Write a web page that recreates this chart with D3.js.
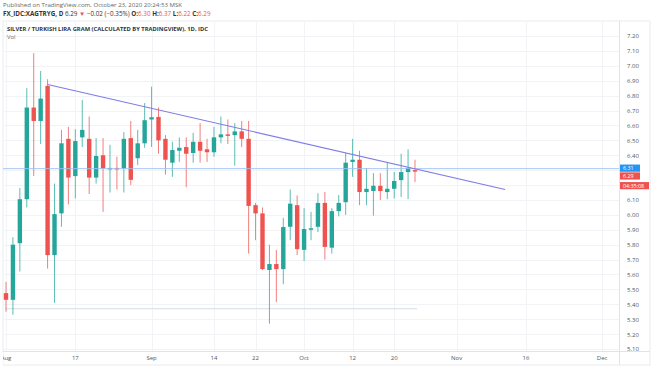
<!DOCTYPE html>
<html>
<head>
<meta charset="utf-8">
<script src="https://cdn.jsdelivr.net/npm/d3@7"></script>
<style>
  html, body { margin: 0; padding: 0; background: #fff; }
  svg { display: block; font-family: "Open Sans", sans-serif; }
</style>
</head>
<body>
<svg id="chart" width="654" height="366"></svg>
<script>
// trading days shown (Aug 3 .. Oct 23, 2020)
const dates = [
    'Aug 3','Aug 4','Aug 5','Aug 6','Aug 7','Aug 10','Aug 11','Aug 12','Aug 13','Aug 14',
    'Aug 17','Aug 18','Aug 19','Aug 20','Aug 21','Aug 24','Aug 25','Aug 26','Aug 27','Aug 28','Aug 31',
    'Sep 1','Sep 2','Sep 3','Sep 4','Sep 7','Sep 8','Sep 9','Sep 10','Sep 11',
    'Sep 14','Sep 15','Sep 16','Sep 17','Sep 18','Sep 21','Sep 22','Sep 23','Sep 24','Sep 25',
    'Sep 28','Sep 29','Sep 30','Oct 1','Oct 2','Oct 5','Oct 6','Oct 7','Oct 8','Oct 9',
    'Oct 12','Oct 13','Oct 14','Oct 15','Oct 16','Oct 19','Oct 20','Oct 21','Oct 22','Oct 23'
];
const opens = [5.475,5.43,5.81,6.105,6.72,6.63,6.865,5.73,6.01,6.51,
    6.26,6.52,6.51,6.25,6.40,6.31,6.315,6.31,6.515,6.38,
    6.48,6.64,6.657,6.51,6.35,6.43,6.455,6.415,6.49,6.44,
    6.42,6.52,6.54,6.535,6.56,6.51,6.065,6.01,5.63,5.67,
    5.636,5.92,6.065,5.765,5.905,5.92,6.08,5.78,6.025,6.085,
    6.355,6.37,6.153,6.16,6.195,6.153,6.175,6.233,6.287,6.30];
const highs = [5.55,5.85,6.18,6.85,7.085,6.965,6.91,6.21,6.57,6.59,
    6.575,6.77,6.66,6.515,6.515,6.47,6.39,6.555,6.63,6.57,
    6.75,6.86,6.72,6.535,6.49,6.52,6.52,6.55,6.615,6.51,
    6.59,6.66,6.64,6.615,6.63,6.63,6.08,6.05,5.80,5.764,
    5.98,6.17,6.13,6.045,6.02,6.145,6.153,6.045,6.133,6.415,
    6.51,6.43,6.315,6.28,6.28,6.355,6.288,6.41,6.44,6.37];
const lows = [5.35,5.33,5.62,6.05,6.26,6.475,5.64,5.41,5.92,6.07,
    6.11,6.455,6.14,6.21,6.02,6.15,6.17,6.15,6.20,6.335,
    6.45,6.455,6.41,6.27,6.255,6.355,6.185,6.35,6.35,6.355,
    6.39,6.48,6.475,6.33,6.455,5.74,5.83,5.63,5.27,5.415,
    5.535,5.83,5.73,5.69,5.83,5.885,5.70,5.74,5.99,6.0,
    6.255,6.065,6.065,5.995,6.10,6.105,6.11,6.12,6.106,6.22];
const closes = [5.43,5.80,6.105,6.72,6.63,6.78,5.73,6.005,6.48,6.25,
    6.495,6.57,6.25,6.395,6.31,6.315,6.31,6.51,6.235,6.48,
    6.635,6.655,6.50,6.37,6.435,6.45,6.41,6.49,6.43,6.42,
    6.52,6.54,6.535,6.56,6.51,6.06,6.01,5.636,5.67,5.636,
    5.918,6.075,5.77,5.905,5.91,6.08,5.785,6.025,6.08,6.35,
    6.37,6.153,6.175,6.195,6.16,6.175,6.227,6.287,6.314,6.29];

// time axis labels and the bar index they sit on (future bars continue the weekday count)
const timeLabels = ['Aug','17','Sep','14','22','Oct','12','20','Nov','16','Dec'];
const timeIdx = [0, 10, 21, 30, 36, 43, 50, 56, 65, 75, 86];

// price ticks (6.30 and 6.20 hidden behind the price boxes)
const priceTicks = [7.2,7.1,7.0,6.9,6.8,6.7,6.6,6.5,6.4,6.1,6.0,5.9,5.8,5.7,5.6,5.5,5.4,5.3,5.2,5.1];
const gridTicks = d3.range(51, 73).map(d => d / 10);

// drawings
const trendIdx = [6, 72];
const trendPrice = [6.875, 6.17];
const hLevel = 6.31;
const lowLevel = 5.37;
const lowLevelIdx = [-0.15, 59.3];
const lastPrice = 6.29;

const svg = d3.select('#chart');
const pL = 3, pR = 619, pT = 21, pB = 351;

const x = d3.scaleLinear().domain([0, 59]).range([6, 415]);
const y = d3.scaleLinear().domain([5.1, 7.2]).range([349, 36]);

// header
const head = svg.append('g').attr('font-size', 6.1);
head.append('text').attr('x', 3).attr('y', 7).attr('fill', '#666')
    .text('Published on TradingView.com, October 23, 2020 20:24:53 MSK');
const l2 = head.append('text').attr('x', 3).attr('y', 16).attr('fill', '#333').attr('font-size', 6.3);
l2.append('tspan').attr('font-weight', 'bold').text('FX_IDC:XAGTRYG, D ');
l2.append('tspan').text('6.29 ');
l2.append('tspan').attr('fill', '#ef5350').text('▼ ');
l2.append('tspan').text('−0.02 (−0.35%) ');
[['O:', '6.30'], ['H:', '6.37'], ['L:', '6.22'], ['C:', '6.29']].forEach(p => {
    l2.append('tspan').attr('font-weight', 'bold').text(p[0]);
    l2.append('tspan').attr('fill', '#ef5350').text(p[1] + ' ');
});

// frame
svg.append('clipPath').attr('id', 'plot')
    .append('rect').attr('x', pL).attr('y', pT).attr('width', pR - pL).attr('height', pB - pT);
svg.append('rect').attr('x', pL).attr('y', pT).attr('width', 650 - pL).attr('height', 365 - pT)
    .attr('fill', 'none').attr('stroke', '#e4e6eb').attr('stroke-width', 0.8);

const plot = svg.append('g').attr('clip-path', 'url(#plot)');

// grid
plot.append('g').selectAll('line').data(gridTicks).join('line')
    .attr('x1', pL).attr('x2', pR)
    .attr('y1', d => Math.round(y(d)) + 0.5).attr('y2', d => Math.round(y(d)) + 0.5)
    .attr('stroke', '#f1f3f7');
plot.append('g').selectAll('line').data(timeIdx).join('line')
    .attr('x1', d => Math.round(x(d)) + 0.5).attr('x2', d => Math.round(x(d)) + 0.5)
    .attr('y1', pT).attr('y2', pB)
    .attr('stroke', '#f1f3f7');

// low horizontal ray
plot.append('line')
    .attr('x1', x(lowLevelIdx[0])).attr('x2', x(lowLevelIdx[1]))
    .attr('y1', y(lowLevel)).attr('y2', y(lowLevel))
    .attr('stroke', '#c9d6dc').attr('stroke-width', 0.8);

// candles
const bars = d3.range(dates.length).map(i => ({
    i, o: opens[i], h: highs[i], l: lows[i], c: closes[i]
}));
const col = d => d.c >= d.o ? '#26a69a' : '#ef5350';
const cg = plot.append('g');
cg.selectAll('line').data(bars).join('line')
    .attr('x1', d => x(d.i)).attr('x2', d => x(d.i))
    .attr('y1', d => y(d.h)).attr('y2', d => y(d.l))
    .attr('stroke', col).attr('stroke-opacity', 0.75).attr('stroke-width', 1);
cg.selectAll('rect').data(bars).join('rect')
    .attr('x', d => x(d.i) - 2.2).attr('width', 4.4)
    .attr('y', d => y(Math.max(d.o, d.c)))
    .attr('height', d => Math.max(1.5, Math.abs(y(d.o) - y(d.c))))
    .attr('fill', col);

// horizontal line at 6.31
plot.append('line')
    .attr('x1', pL).attr('x2', pR)
    .attr('y1', y(hLevel)).attr('y2', y(hLevel))
    .attr('stroke', '#9fc1f0').attr('stroke-width', 0.9);

// trend line
plot.append('line')
    .attr('x1', x(trendIdx[0])).attr('y1', y(trendPrice[0]))
    .attr('x2', x(trendIdx[1])).attr('y2', y(trendPrice[1]))
    .attr('stroke', '#7e7ce6').attr('stroke-width', 1.1);

// axes lines
svg.append('line').attr('x1', pR + 0.5).attr('x2', pR + 0.5).attr('y1', pT).attr('y2', 365)
    .attr('stroke', '#e0e3eb');
svg.append('line').attr('x1', pL).attr('x2', 650).attr('y1', pB + 0.5).attr('y2', pB + 0.5)
    .attr('stroke', '#e0e3eb');

// price axis
const yAxis = d3.axisRight(y).tickValues(priceTicks).tickFormat(d3.format('.2f')).tickSize(0).tickPadding(0);
svg.append('g').attr('transform', `translate(${pR + 8},0)`).call(yAxis)
    .call(g => g.select('.domain').remove())
    .selectAll('text').attr('font-size', 6).attr('fill', '#555').attr('font-family', '"Open Sans", sans-serif');

// time axis
const timeAxis = svg.append('g').attr('font-size', 6).attr('fill', '#555');
timeAxis.selectAll('text').data(timeIdx).join('text')
    .attr('x', d => x(d)).attr('y', 360)
    .attr('text-anchor', 'middle')
    .text((d, i) => timeLabels[i]);
svg.append('rect').attr('x', 0).attr('y', pB + 1).attr('width', pL).attr('height', 14).attr('fill', '#fff');

// price boxes
const boxes = [
    {y: y(hLevel) - 0.5, label: '6.31', fill: '#2196f3', w: 20},
    {y: y(hLevel) + 7.3, label: lastPrice.toFixed(2), fill: '#ef5350', w: 20},
    {y: y(hLevel) + 17, label: '04:35:08', fill: '#ef5350', w: 29}
];
const bg = svg.append('g');
boxes.forEach(b => {
    bg.append('rect').attr('x', pR + 1).attr('y', b.y - 3.6).attr('width', b.w).attr('height', 7.2)
        .attr('fill', b.fill);
    bg.append('text').attr('x', pR + 4).attr('y', b.y + 1.9).attr('font-size', 5.3)
        .attr('fill', '#fff').text(b.label);
});

// chart title
const tg = svg.append('g').attr('font-size', 5.8).attr('fill', '#333');
tg.append('text').attr('x', 7).attr('y', 31).attr('font-weight', 'bold')
    .text('SILVER / TURKISH LIRA GRAM (CALCULATED BY TRADINGVIEW), 1D, IDC');
tg.append('text').attr('x', 7).attr('y', 39).attr('fill', '#666').text('Vol');
</script>
</body>
</html>
